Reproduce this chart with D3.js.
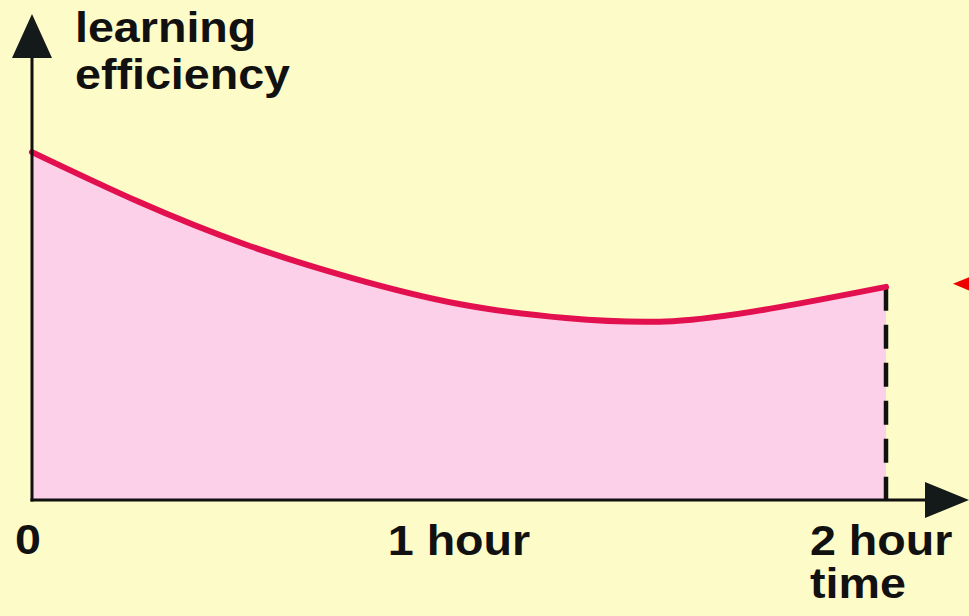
<!DOCTYPE html>
<html>
<head>
<meta charset="utf-8">
<script src="https://cdn.jsdelivr.net/npm/d3@7"></script>
<style>
  html, body { margin: 0; padding: 0; background: #fdfbc7; }
  svg { display: block; }
  text { font-family: "Liberation Sans", Arial, sans-serif; font-weight: bold; fill: #111; }
</style>
</head>
<body>
<script>
// data (time in hours, efficiency in arbitrary units)
var timeHours = [0, 0.25, 0.5, 0.75, 1, 1.25, 1.5, 1.75, 2];
var efficiency = [9.94, 8.52, 7.3, 6.34, 5.6, 5.2, 5.11, 5.51, 6.09];
var xTickValues = [0, 1, 2];
var xTickLabels = ["0", "1 hour", "2 hour"];
var xAxisTitle = "time";
var yAxisTitle = ["learning", "efficiency"];

var width = 969,
    height = 616,
    x0 = 32,
    y0 = 500,
    textScale = 1.11;

var svg = d3.select("body").append("svg")
    .attr("width", width)
    .attr("height", height);

svg.append("rect")
    .attr("width", width)
    .attr("height", height)
    .attr("fill", "#fdfbc7");

var x = d3.scaleLinear().domain([0, 2]).range([x0, 886]);
var y = d3.scaleLinear().domain([0, 10]).range([y0, 150]);

var pts = timeHours.map(function(t, i) { return [t, efficiency[i]]; });

// pink area under the curve
var area = d3.area()
    .x(function(d) { return x(d[0]); })
    .y0(y(0))
    .y1(function(d) { return y(d[1]); })
    .curve(d3.curveNatural);

svg.append("path")
    .datum(pts)
    .attr("d", area)
    .attr("fill", "#fdd0ea");

// dashed end line at 2 hours
svg.append("line")
    .attr("x1", x(2)).attr("x2", x(2))
    .attr("y1", y(efficiency[efficiency.length - 1]))
    .attr("y2", y0)
    .attr("stroke", "#111")
    .attr("stroke-width", 4.5)
    .attr("stroke-dasharray", "24,14");

// red curve
var line = d3.line()
    .x(function(d) { return x(d[0]); })
    .y(function(d) { return y(d[1]); })
    .curve(d3.curveNatural);

svg.append("path")
    .datum(pts)
    .attr("d", line)
    .attr("fill", "none")
    .attr("stroke", "#e2104e")
    .attr("stroke-width", 6)
    .attr("stroke-linecap", "round");

// axes with arrows
svg.append("line")
    .attr("x1", x0).attr("x2", x0)
    .attr("y1", y0 + 1.5).attr("y2", 56)
    .attr("stroke", "#111").attr("stroke-width", 3);

svg.append("path")
    .attr("d", "M" + x0 + ",14L" + (x0 + 20) + ",58L" + (x0 - 20) + ",58Z")
    .attr("fill", "#141a1a");

svg.append("line")
    .attr("x1", x0 - 1.5).attr("x2", 928)
    .attr("y1", y0).attr("y2", y0)
    .attr("stroke", "#111").attr("stroke-width", 3);

svg.append("path")
    .attr("d", "M925,482L969,500L925,518Z")
    .attr("fill", "#141a1a");

// little red pointer at the right edge
var yEnd = y(efficiency[efficiency.length - 1]);
svg.append("path")
    .attr("d", "M953," + (yEnd - 3) + "L975," + (yEnd - 12) + "L975," + (yEnd + 6) + "Z")
    .attr("fill", "#ee0000");

// text helper, slightly stretched wide like the scan
function label(str, tx, ty, anchor) {
  svg.append("text")
    .attr("transform", "translate(" + tx + "," + ty + ") scale(" + textScale + ",1)")
    .attr("text-anchor", anchor || "start")
    .attr("font-size", 42)
    .text(str);
}

label(yAxisTitle[0], 75, 42);
label(yAxisTitle[1], 75, 89);

xTickValues.forEach(function(v, i) {
  if (i === 0) label(xTickLabels[i], 15, 554);
  else if (i === xTickValues.length - 1) label(xTickLabels[i], 810, 555);
  else label(xTickLabels[i], x(v), 555, "middle");
});

label(xAxisTitle, 810, 598);
</script>
</body>
</html>
